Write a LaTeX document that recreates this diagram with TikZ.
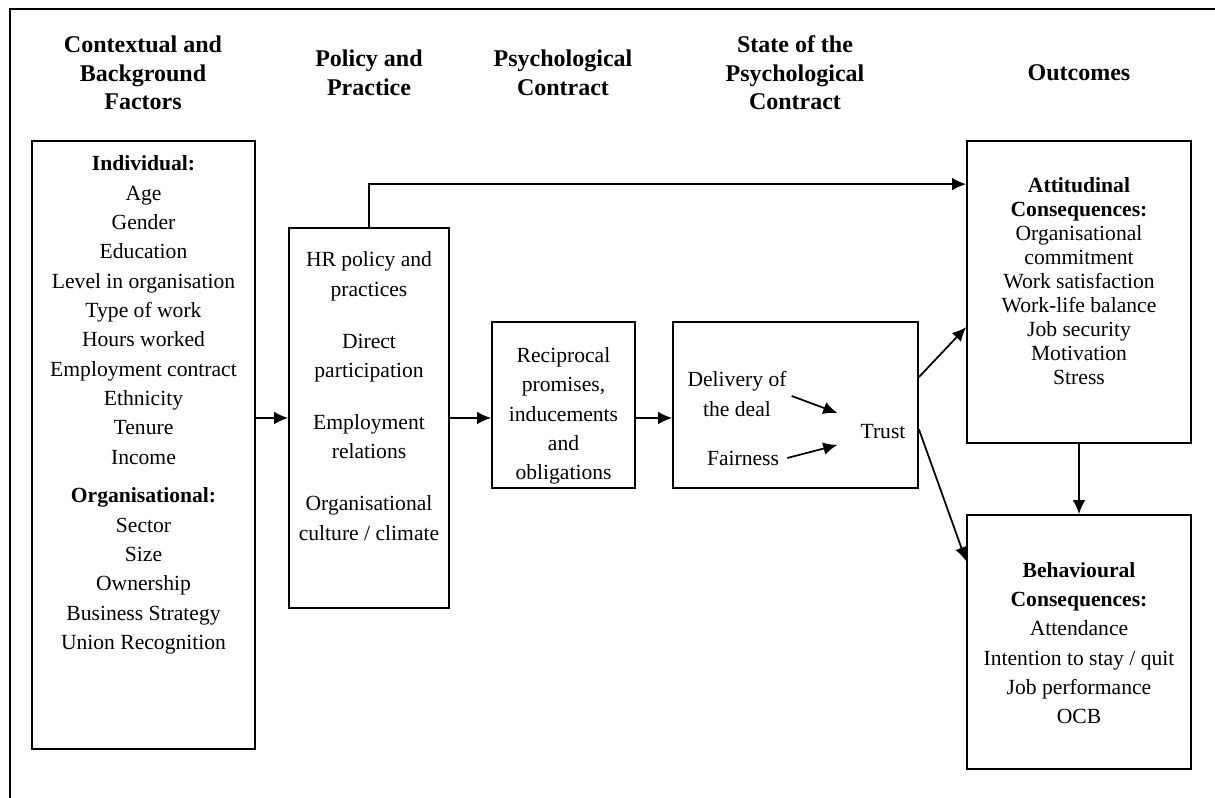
\documentclass[tikz,border=0pt]{standalone}
\usepackage{fontspec}
\setmainfont{Liberation Serif}
\usetikzlibrary{positioning, calc, arrows.meta}

\tikzstyle{Box} = [draw, line width=1.3pt, inner sep=0pt]
\tikzstyle{Txt} = [align=center, inner sep=0pt, font=\fontsize{16.2}{22}\selectfont]
\tikzstyle{Tight} = [align=center, inner sep=0pt, font=\fontsize{16.2}{18}\selectfont]
\tikzstyle{Head} = [align=center, inner sep=0pt, font=\fontsize{18}{21.5}\selectfont\bfseries]
\tikzstyle{Arrow} = [line width=1.3pt, -{Latex[length=10.5pt, width=9.5pt]}]

\begin{document}
\begin{tikzpicture}[x=0.75pt, y=-0.75pt]
\useasboundingbox (0,0) rectangle (1215,798);
\draw[line width=1.3pt] (1215,9) -- (10,9) -- (10,798);

% headings
\node[Head] (h1) at (143,73) {Contextual and\\Background\\Factors};
\node[Head] (h2) at (369,73) {Policy and\\Practice};
\node[Head] (h3) at (563,73) {Psychological\\Contract};
\node[Head] (h4) at (795,73) {State of the\\Psychological\\Contract};
\node[Head] (h5) at (1079,73) {Outcomes};

% boxes
\node[Box, minimum width=167.25pt, minimum height=456pt] (ctx) at (143.5,445) {};
\node[Box, minimum width=120pt, minimum height=285pt] (pol) at (369,418) {};
\node[Box, minimum width=107.25pt, minimum height=124.5pt] (rec) at (563.5,405) {};
\node[Box, minimum width=183.75pt, minimum height=124.5pt] (st) at (795.5,405) {};
\node[Box, minimum width=168pt, minimum height=226.5pt] (att) at (1079,292) {};
\node[Box, minimum width=168pt, minimum height=190.5pt] (beh) at (1079,642) {};

% box texts
\node[Txt] (ctxtxt) at (143.5,405) {\textbf{Individual:}\\Age\\Gender\\Education\\Level in organisation\\
  Type of work\\Hours worked\\Employment contract\\Ethnicity\\Tenure\\Income\\[7pt]
  \textbf{Organisational:}\\Sector\\Size\\Ownership\\Business Strategy\\Union Recognition};
\node[Txt] (poltxt) at (369,396) {HR policy and\\practices\\[17pt]Direct\\participation\\[17pt]
  Employment\\relations\\[17pt]Organisational\\culture / climate};
\node[Txt] (rectxt) at (563.5,416) {Reciprocal\\promises,\\inducements\\and\\obligations};
\node[Txt] (deliv) at (737,394) {Delivery of\\the deal};
\node[Txt] (fair) at (743,458) {Fairness};
\node[Txt] (trust) at (883,432) {Trust};
\node[Tight] (atttxt) at (1079,281) {\textbf{Attitudinal}\\\textbf{Consequences:}\\Organisational\\commitment\\
  Work satisfaction\\Work-life balance\\Job security\\Motivation\\Stress};
\node[Txt] (behtxt) at (1079,643) {\textbf{Behavioural}\\\textbf{Consequences:}\\Attendance\\
  Intention to stay / quit\\Job performance\\OCB};

% connectors
\draw[Arrow] (ctx.east |- pol) -- (pol.west);
\draw[Arrow] (pol.east) -- (rec.west |- pol);
\draw[Arrow] (rec.east |- pol) -- (st.west |- pol);
\draw[Arrow] (pol.north) |- ($(att.north west)+(0,44)$);
\draw[Arrow] ($(st.north east)+(0,56)$) -- ($(att.north west)+(0,187)$);
\draw[Arrow] ($(st.north east)+(0,108)$) -- ($(beh.north west)+(0,47)$);
\draw[Arrow] (att.south) -- (beh.north);
\draw[Arrow] ($(deliv.east)+(5,2)$) -- ($(trust.west)+(-23,-19)$);
\draw[Arrow] ($(fair.east)+(8,0)$) -- ($(trust.west)+(-23,13)$);
\end{tikzpicture}
\end{document}
